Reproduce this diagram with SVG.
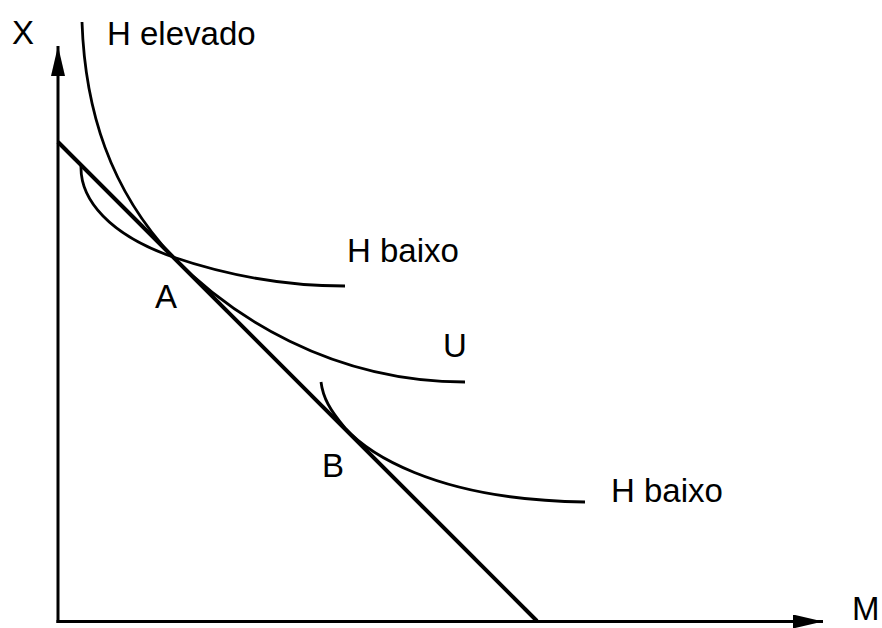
<svg xmlns="http://www.w3.org/2000/svg" width="882" height="628" viewBox="0 0 882 628">
<style>
.t{font-family:"Liberation Sans",Arial,sans-serif;font-size:33px;fill:#000}
.ax{stroke:#000;stroke-width:3;fill:none}
.bl{stroke:#000;stroke-width:4;fill:none}
.cv{stroke:#000;stroke-width:2.8;fill:none}
</style>
<defs>
<marker id="arr" markerUnits="userSpaceOnUse" markerWidth="30" markerHeight="14" refX="30" refY="7" orient="auto">
<path d="M0,0 L30,7 L0,14 Z" fill="#000"/>
</marker>
</defs>
<rect width="882" height="628" fill="#fff"/>
<g id="axes">
<line class="ax" x1="58" y1="623" x2="58" y2="46" marker-end="url(#arr)"/>
<line class="ax" x1="56.5" y1="621.5" x2="823" y2="621.5" marker-end="url(#arr)"/>
</g>
<g id="budget-line">
<line class="bl" x1="58" y1="142" x2="537" y2="621"/>
</g>
<g id="curve-h-elevado-u">
<path class="cv" d="M82,22 C85,110 110,190 173,257 C230,315 330,382 465,382"/>
</g>
<g id="curve-h-baixo-a">
<path class="cv" d="M81,166 C80,200 110,235 173,257 C220,273 280,286 345,286"/>
</g>
<g id="curve-h-baixo-b">
<path class="cv" d="M321,382 C323,398 330,410 345,428 C365,450 430,500 585,502"/>
</g>
<g id="labels">
<text class="t" x="12" y="44">X</text>
<text class="t" x="107" y="45">H elevado</text>
<text class="t" x="347" y="262">H baixo</text>
<text class="t" x="155" y="308">A</text>
<text class="t" x="443" y="357">U</text>
<text class="t" x="322" y="477">B</text>
<text class="t" x="611" y="502">H baixo</text>
<text class="t" x="852" y="620">M</text>
</g>
</svg>
